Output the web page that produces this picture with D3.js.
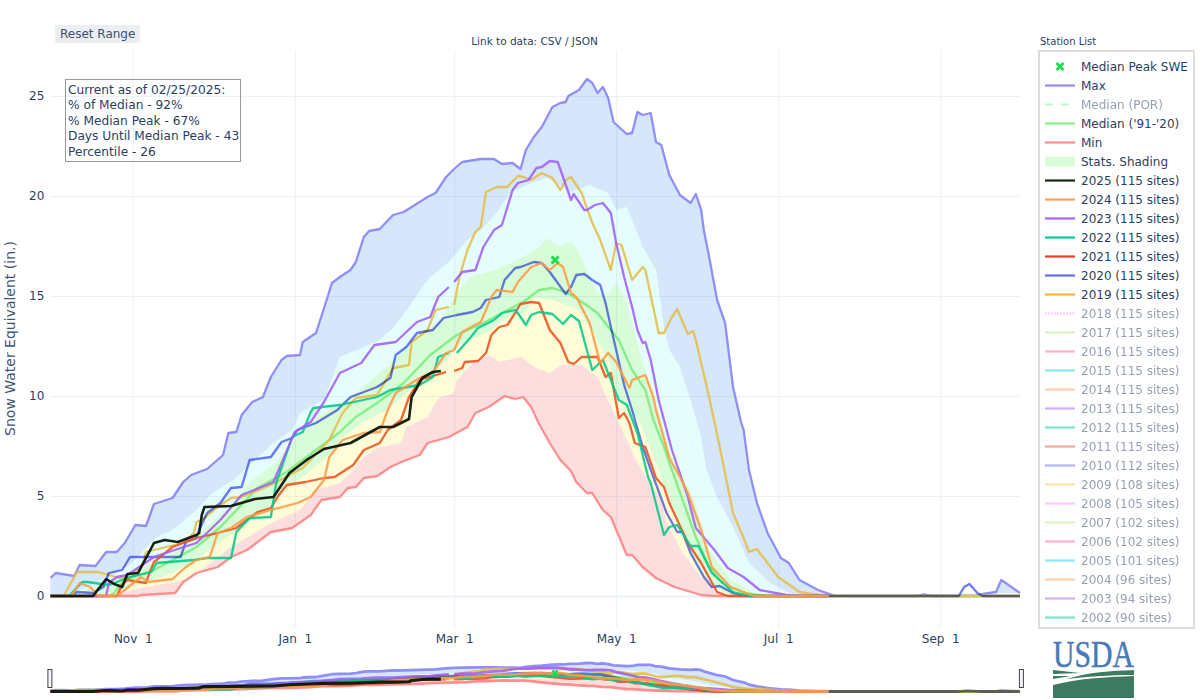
<!DOCTYPE html>
<html>
<head>
<meta charset="utf-8">
<script src="https://cdn.jsdelivr.net/npm/d3@7"></script>
<style>
  html, body { margin: 0; padding: 0; background: #fff; }
  text { font-family: "DejaVu Sans", sans-serif; fill: #2a3f5f; }
</style>
</head>
<body>
<svg id="chart" width="1200" height="700"></svg>
<script>
// all series are [day of water year (Oct 1 = 0), SWE inches]; null marks the missing Feb 29
var maxLine = [[0,.9],[2,1.15],[9,1],[11,1.55],[17,1.5],[21,2.2],[25,2.2],[28,2.65],[32,3.55],[36,3.5],[39,4.6],[46,4.9],[50,5.7],[53,6.05],[59,6.35],[65,7.05],[67,8.15],[70,8.2],[72,9.05],[76,9.7],[80,9.95],[83,10.95],[87,11.8],[89,12],[94,12.05],[95,12.7],[100,13.15],[104,14.8],[106,15.65],[109,15.95],[113,16.3],[115,16.7],[118,17.95],[120,18.25],[124,18.35],[129,19.05],[133,19.2],[142,19.95],[145,20.15],[149,20.95],[152,21.35],[155,21.7],[162,21.85],[167,21.85],[170,21.6],[174,21.65],[177,21.35],[179,22.3],[182,22.95],[185,23.45],[189,24.45],[192,24.65],[194,24.7],[195,25],[199,25.3],[202,25.85],[204,25.65],[206,25.15],[208,25.45],[210,24.9],[212,23.7],[214,23.45],[217,23.1],[219,23.15],[221,24.2],[223,24.05],[226,24.15],[228,22.7],[230,22.55],[233,21.05],[237,20.05],[241,19.65],[243,20.1],[245,19.3],[246,18.3],[248,16.95],[251,14.8],[254,13.65],[257,10.45],[260,8.7],[261,8.3],[263,6.3],[266,4.65],[270,3.15],[275,1.9],[278,1.65],[282,.8],[289,.3],[295,.02],[301,0],[326,0],[329,.08],[332,0],[348,0],[351,.1],[356,.2],[358,.8],[365,.15]];
var minLine = [[0,0],[33,0],[34,.05],[47,.15],[50,.7],[55,1.15],[63,1.45],[68,1.95],[74,2.3],[83,3.2],[91,3.4],[98,4.05],[102,4.8],[109,4.95],[112,5.4],[115,5.45],[118,5.9],[123,6],[128,6.45],[133,6.75],[139,7.05],[142,7.65],[150,7.95],[157,8.45],[160,9.15],[165,9.45],[171,10],[175,9.85],[178,9.95],[181,9.45],[184,8.6],[188,7.65],[192,6.8],[196,6.25],[198,5.7],[202,5.15],[204,5.15],[208,4.3],[211,3.95],[217,2.05],[219,2.05],[223,1.45],[228,.9],[235,.45],[245,.05],[250,0],[365,0]];
var medianLine = [[0,0],[22,0],[24,.15],[27,.65],[30,.9],[39,1.3],[46,1.8],[55,2.45],[64,3.45],[78,5.4],[89,6.2],[99,7.2],[109,8.2],[115,8.95],[123,9.65],[133,10.65],[143,12.05],[153,13.05],[163,13.65],[170,14.15],[178,14.7],[184,15.3],[189,15.4],[194,15.2],[199,14.8],[206,14.15],[211,13.3],[214,12.8],[219,11.3],[224,10.3],[227,8.8],[231,7.45],[234,6.3],[238,4.8],[243,2.95],[248,1.45],[253,.65],[261,.15],[270,0],[365,0]];
var p10 = [[23,0],[34,.4],[45,.65],[53,.9],[68,2.45],[83,3.65],[94,4.3],[100,5.3],[109,5.65],[114,6.3],[118,6.95],[123,7.4],[132,7.65],[134,8.45],[142,8.95],[146,9.9],[152,10.15],[153,10.8],[159,11.65],[165,12.05],[169,11.7],[177,11.95],[183,11.4],[188,11.15],[192,11.55],[200,11.55],[206,10.95],[209,10.05],[213,8.95],[217,7.8],[221,6.65],[225,5.8],[230,4.8],[232,3.65],[238,2.15],[245,.95],[251,.2],[256,0]];
var p30 = [[18,0],[33,.55],[46,1.15],[55,1.8],[66,2.9],[78,3.95],[85,4.8],[95,5.95],[106,7.15],[109,7.8],[117,8.65],[127,9.3],[136,10.4],[146,11.3],[154,12.55],[164,13.15],[172,13.9],[179,14.2],[182,14.9],[189,14.8],[194,14.55],[199,14.3],[206,12.8],[210,11.8],[214,9.95],[222,8.65],[228,6.65],[234,4.45],[240,2.45],[246,.95],[253,.2],[258,0]];
var p70 = [[7,0],[30,1.15],[45,2.05],[56,3.05],[68,4.55],[76,5.8],[84,6.55],[92,7.8],[101,8.95],[115,10.15],[124,11.15],[128,11.65],[136,12.65],[147,13.8],[152,14.95],[158,15.95],[167,16.3],[176,16.8],[184,17.45],[187,17.9],[191,17.45],[196,17.7],[199,17.2],[202,16.3],[206,15.15],[210,14.95],[213,15.75],[217,14.65],[219,13.65],[223,11.65],[229,9.15],[234,6.95],[242,4.95],[248,2.3],[256,.8],[265,.15],[271,0]];
var p90 = [[0,0],[9,.15],[29,1.45],[40,2.95],[46,3.3],[55,4.3],[61,5.15],[69,5.8],[73,6.3],[84,7.65],[91,8.3],[94,9.15],[103,9.8],[109,11.95],[118,12.45],[124,12.8],[129,13.4],[135,14.45],[140,15.45],[143,15.95],[150,16.7],[157,17.8],[162,18.3],[168,19.15],[173,20.15],[181,20.65],[187,20.9],[196,20.2],[203,20.55],[210,20.15],[213,19.3],[217,19.45],[221,18.15],[223,17.45],[228,16.3],[231,13.45],[233,12.3],[237,11.45],[241,9.8],[245,7.95],[247,6.3],[251,4.95],[257,3.45],[263,1.65],[271,.65],[278,.15],[284,0]];
var y2025 = [[0,0],[16,0],[21,.85],[24,.6],[27,.45],[29,1.1],[33,1.15],[39,2.65],[43,2.8],[48,2.7],[55,3.05],[56,3.15],[57,4.05],[58,4.45],[68,4.5],[77,4.85],[84,4.95],[90,6.15],[97,6.85],[103,7.35],[113,7.65],[124,8.45],[129,8.45],[135,8.85],[136,9.95],[140,10.9],[144,11.2],[147,11.25]];
var y2024 = [[0,0],[8,0],[11,.65],[15,.45],[18,0],[25,0],[28,.3],[34,.95],[37,.7],[46,.85],[51,1.45],[55,1.8],[60,1.95],[63,3.15],[68,3.4],[74,3.95],[83,4.3],[93,4.65],[98,4.95],[103,5.8],[105,6.95],[110,7.8],[118,8.15],[124,8.2],[127,9.3],[130,10.15],[139,10.9],[144,11.2],[149,12.15],[152,12.3],[155,13.2],[162,13.7],[164,14.3],[166,14.95],[168,15.3],[174,15.2],[176,15.7],[181,16.45],[185,16.65],[188,16.3],[191,16.65],[193,16.45],[196,15.15],[198,14.95],[203,13.65],[204,13.15],[207,11.65],[210,12.15],[213,11.7],[218,10.4],[219,10.8],[224,11.05],[227,9.95],[228,9.3],[233,6.9],[237,5.95],[240,5.15],[245,3.3],[249,1.45],[256,.45],[265,0],[293,0]];
var y2023 = [[0,0],[21,0],[22,.65],[25,.95],[29,1.05],[39,1.95],[49,2.4],[55,2.65],[64,3.8],[72,5.05],[84,5.7],[92,8.2],[98,8.7],[103,9.7],[109,11.15],[117,11.65],[122,12.55],[130,12.7],[138,13.7],[143,13.95],[146,14.95],[150,15.45],[151,null],[152,15.7],[155,16.2],[160,16.3],[163,17.45],[167,18.3],[170,18.55],[174,20.3],[176,20.65],[180,20.8],[183,21.4],[185,21.45],[188,21.75],[191,21.7],[193,20.95],[196,19.8],[197,20.1],[201,19.3],[202,19.3],[205,19.55],[208,19.65],[211,19.15],[213,17.65],[216,15.95],[219,14.45],[221,13.3],[223,12.65],[224,12.7],[226,11.8],[229,9.8],[234,7.3],[240,4.95],[243,3.4],[250,2.3],[255,1.4],[261,.95],[267,.3],[277,.05],[282,0],[293,0]];
var y2022 = [[0,0],[7,0],[12,.7],[14,.7],[22,.55],[30,.95],[38,1.2],[40,1.65],[54,1.8],[59,1.9],[68,1.9],[70,3.2],[75,3.9],[83,3.95],[85,5.65],[91,7.95],[95,8.2],[98,9.2],[99,9.4],[109,9.55],[123,9.95],[128,10.3],[139,10.55],[144,10.95],[146,11.95],[148,12.05],[150,12.15],[151,null],[153,12.15],[158,12.9],[161,13.4],[167,13.8],[170,14.15],[175,14.3],[177,13.95],[179,13.55],[181,14.05],[184,14.2],[189,14.1],[193,13.6],[196,14.05],[199,13.75],[204,11.3],[208,11.8],[211,10.8],[214,9.8],[217,9.55],[221,8.15],[225,5.95],[226,5.65],[231,3.05],[233,3.45],[236,3.55],[241,2.5],[244,2.5],[249,1.15],[257,.2],[263,0],[293,0]];
var y2021 = [[0,0],[25,0],[27,.55],[29,.8],[36,.65],[37,1.05],[39,1.7],[46,2.45],[55,2.9],[63,3.15],[70,3.4],[74,3.8],[78,4.2],[83,4.4],[86,5.05],[89,5.55],[96,5.7],[103,5.9],[107,5.95],[114,6.55],[118,7.3],[124,7.65],[127,8.3],[132,8.8],[135,9.95],[139,10.8],[144,11],[149,11.2],[151,null],[152,11.25],[155,11.4],[156,11.7],[161,11.75],[164,12.15],[166,13.05],[169,13.45],[172,13.55],[174,13.95],[177,14.6],[181,14.7],[184,14.65],[188,13.3],[192,12.65],[195,11.7],[197,11.6],[200,11.95],[206,11.95],[209,10.95],[211,11.15],[214,8.9],[216,9.15],[218,8.65],[220,7.65],[224,7.45],[228,5.9],[231,5.45],[233,4.65],[236,3.8],[240,2.65],[245,1.65],[251,.2],[255,0],[293,0]];
var y2020 = [[0,0],[8,0],[10,.2],[16,.15],[20,.45],[22,1.15],[27,1.3],[30,1.95],[37,1.95],[49,1.95],[51,2.7],[55,2.9],[56,3.3],[59,4.15],[64,4.65],[68,5.4],[72,5.45],[75,6.8],[83,6.95],[87,7.7],[91,7.9],[93,8.3],[100,8.65],[108,9.3],[113,9.95],[123,10.45],[128,10.9],[130,12.05],[134,12.45],[138,13.15],[144,13.3],[148,13.9],[153,14.05],[159,14.2],[162,14.4],[164,14.8],[169,14.95],[171,15.8],[175,16.4],[177,16.45],[182,16.7],[185,16.65],[188,16.2],[191,15.65],[194,15.1],[196,15.45],[198,16.05],[201,16.1],[204,15.8],[207,15.55],[209,14.65],[211,13.45],[213,12.3],[216,10.55],[219,9.3],[223,7.45],[227,5.95],[232,4.15],[236,3.2],[238,3.2],[241,2.15],[246,.95],[249,.45],[252,.5],[257,.15],[262,0],[342,0],[344,.45],[346,.6],[349,.15],[351,0],[365,0]];
var y2019 = [[0,0],[5,0],[10,1.2],[18,1.2],[26,.9],[30,.9],[35,1.65],[36,2.2],[42,2.4],[50,2.65],[54,3.15],[55,3.7],[57,3.8],[63,4.45],[68,4.9],[72,4.95],[83,5.55],[95,6.4],[104,7.65],[105,7.8],[110,9.15],[115,9.9],[123,10.05],[129,11.4],[135,11.55],[136,12.7],[142,13.3],[145,14.3],[150,14.45],[151,null],[152,14.55],[154,15.95],[157,17.3],[160,18.2],[162,18.45],[164,20.2],[168,20.45],[172,20.45],[176,21],[178,20.95],[181,20.8],[185,21.15],[189,20.9],[192,20.3],[194,20.8],[196,20.95],[200,20.15],[204,18.65],[207,17.8],[211,16.3],[213,17.65],[215,17.55],[219,15.8],[223,16.45],[224,16.3],[229,13.15],[231,13.15],[234,13.95],[236,14.35],[238,13.7],[240,13.1],[242,13.25],[243,12.8],[248,9.95],[252,7.45],[257,4.15],[261,2.9],[263,2.2],[266,2.35],[274,.95],[282,.2],[292,0],[365,0]];

var medianPeak = [190, 16.8];

var xTickDays = [31, 92, 152, 213, 274, 335];
var xTickLabels = ['Nov  1', 'Jan  1', 'Mar  1', 'May  1', 'Jul  1', 'Sep  1'];
var yTicks = [0, 5, 10, 15, 20, 25];

var yearSeries = [y2019, y2020, y2021, y2022, y2023, y2024, y2025];
var yearColors = ['#e4be4a', '#5a66fa', '#ef5020', '#00c98a', '#a05ff5', '#ff9a45', '#0c1608'];

var legendNames = ['Median Peak SWE', 'Max', 'Median (POR)', "Median ('91-'20)", 'Min', 'Stats. Shading',
  '2025 (115 sites)', '2024 (115 sites)', '2023 (115 sites)', '2022 (115 sites)', '2021 (115 sites)', '2020 (115 sites)', '2019 (115 sites)',
  '2018 (115 sites)', '2017 (115 sites)', '2016 (115 sites)', '2015 (115 sites)', '2014 (115 sites)', '2013 (115 sites)', '2012 (115 sites)',
  '2011 (115 sites)', '2010 (112 sites)', '2009 (108 sites)', '2008 (105 sites)', '2007 (102 sites)', '2006 (102 sites)', '2005 (101 sites)',
  '2004 (96 sites)', '2003 (94 sites)', '2002 (90 sites)'];
var legendColors = ['#14e04a', '#8f8ff7', '#8cef8c', '#8cef8c', '#ff8f8f', '#d8fbd8',
  '#1a2a10', '#ffa15a', '#ab63fa', '#00cc96', '#ef3b2b', '#636efa', '#ffb040',
  '#ff97ff', '#b6e880', '#ff6692', '#19d3f3', '#ffa15a', '#ab63fa', '#00cc96',
  '#ef553b', '#636efa', '#fecb52', '#ff97ff', '#b6e880', '#ff6692', '#19d3f3',
  '#ffa15a', '#ab63fa', '#00cc96'];
var legendHidden = ['Median (POR)'];

var svg = d3.select('#chart');

var plotLeft = 50.4, plotRight = 1019.9, plotTop = 50, plotBottom = 628;

var x = d3.scaleLinear().domain([0, 365]).range([plotLeft, plotRight]);
var y = d3.scaleLinear().domain([-1.6, 27.3]).range([plotBottom, plotTop]);
var yMini = d3.scaleLinear().domain([0, 25.85]).range([691.5, 663]);

function lineFor(yScale) {
    return d3.line()
        .defined(function (d) { return d[1] !== null; })
        .x(function (d) { return x(d[0]); })
        .y(function (d) { return yScale(d[1]); });
}

// stats shading, each band runs along its upper curve and back along the lower one
var bands = [
    { upper: maxLine, lower: p90, fill: 'rgba(5,105,230,0.16)' },
    { upper: p90, lower: p70, fill: 'rgba(5,235,235,0.1)' },
    { upper: p70, lower: p30, fill: 'rgba(11,230,11,0.16)' },
    { upper: p30, lower: p10, fill: 'rgba(249,243,11,0.16)' },
    { upper: p10, lower: minLine, fill: 'rgba(240,1,1,0.13)' }
];

function drawMarks(g, yScale, widthScale) {
    var line = lineFor(yScale);

    bands.forEach(function (b) {
        var ring = b.upper.concat(b.lower.slice().reverse());
        g.append('path').attr('d', line(ring) + 'Z').attr('fill', b.fill);
    });

    [[maxLine, '#8f8ff7'], [minLine, '#ff8f8f'], [medianLine, '#86ee86']].forEach(function (s) {
        g.append('path').attr('d', line(s[0]))
            .attr('fill', 'none').attr('stroke', s[1])
            .attr('stroke-width', 2.3 * widthScale).attr('stroke-linejoin', 'round');
    });

    yearSeries.forEach(function (s, i) {
        var path = g.append('path').attr('d', line(s))
            .attr('fill', 'none').attr('stroke', yearColors[i])
            .attr('stroke-opacity', i === 6 ? 0.95 : 0.88)
            .attr('stroke-width', (i === 6 ? 2.6 : 2.3) * widthScale).attr('stroke-linejoin', 'round');
        // 2020 darkens what it crosses, that gives the grey run along zero
        if (i === 1) path.style('mix-blend-mode', 'multiply');
    });

    g.append('path')
        .attr('d', d3.symbol(d3.symbolX, widthScale === 1 ? 34 : 20)())
        .attr('transform', 'translate(' + x(medianPeak[0]) + ',' + yScale(medianPeak[1]) + ')')
        .attr('fill', 'none').attr('stroke', '#14e04a').attr('stroke-width', 2.6);
}

// grid
var yGrid = svg.append('g').attr('transform', 'translate(' + plotLeft + ',0)')
    .call(d3.axisLeft(y).tickValues(yTicks).tickSize(-(plotRight - plotLeft)).tickPadding(6).tickFormat(d3.format('d')));
yGrid.select('.domain').remove();
yGrid.selectAll('line').attr('stroke', '#ebf0f8');
yGrid.selectAll('line').filter(function (d) { return d === 0; }).attr('stroke-width', 2);
yGrid.selectAll('text').attr('font-size', 12).style('font-family', '"DejaVu Sans"').style('fill', '#2a3f5f');

var xGrid = svg.append('g').attr('transform', 'translate(0,' + plotBottom + ')')
    .call(d3.axisBottom(x).tickValues(xTickDays).tickSize(-(plotBottom - plotTop)).tickPadding(6)
        .tickFormat(function (d, i) { return xTickLabels[i]; }));
xGrid.select('.domain').remove();
xGrid.selectAll('line').attr('stroke', '#ebf0f8');
xGrid.selectAll('text').attr('font-size', 12).style('font-family', '"DejaVu Sans"').style('white-space', 'pre').style('fill', '#2a3f5f');

drawMarks(svg.append('g').style('isolation', 'isolate'), y, 1);

// range slider
drawMarks(svg.append('g').style('isolation', 'isolate'), yMini, 1.2);
[plotLeft - 2.5, plotRight - 0.5].forEach(function (hx) {
    svg.append('rect').attr('x', hx).attr('y', 669.5).attr('width', 4).attr('height', 18)
        .attr('fill', '#f2f5fa').attr('stroke', '#444');
});

// y title
svg.append('text')
    .attr('transform', 'translate(14.5,338.5) rotate(-90)')
    .attr('text-anchor', 'middle').attr('font-size', 14).style('fill', '#3f5575')
    .text('Snow Water Equivalent (in.)');

// header bits
svg.append('rect').attr('x', 55).attr('y', 25).attr('width', 85).attr('height', 18).attr('rx', 2).attr('fill', '#eceef1');
svg.append('text').attr('x', 60).attr('y', 37.5).attr('font-size', 12).style('fill', '#3f5070').text('Reset Range');
svg.append('text').attr('x', 534.5).attr('y', 45).attr('text-anchor', 'middle').attr('font-size', 10.5).text('Link to data: CSV / JSON');
svg.append('text').attr('x', 1040).attr('y', 45).attr('font-size', 10).text('Station List');

// current-as-of box
svg.append('rect').attr('x', 65.5).attr('y', 79.5).attr('width', 175).attr('height', 82)
    .attr('fill', 'none').attr('stroke', '#999');
var noteLines = ['Current as of 02/25/2025:', '% of Median - 92%', '% Median Peak - 67%', 'Days Until Median Peak - 43', 'Percentile - 26'];
noteLines.forEach(function (t, i) {
    svg.append('text').attr('x', 68).attr('y', 93.5 + i * 15.6).attr('font-size', 12.2).text(t);
});

// legend
svg.append('rect').attr('x', 1039).attr('y', 51).attr('width', 155).attr('height', 577)
    .attr('fill', '#fff').attr('stroke', '#dedede').attr('stroke-width', 2);

legendNames.forEach(function (name, i) {
    var rowY = 66.5 + i * 19;
    var off = i > 12 || legendHidden.indexOf(name) >= 0;
    var row = svg.append('g').attr('opacity', off ? 0.5 : 1);
    if (name === 'Median Peak SWE') {
        row.append('path').attr('d', d3.symbol(d3.symbolX, 34)())
            .attr('transform', 'translate(1060,' + rowY + ')')
            .attr('fill', 'none').attr('stroke', legendColors[i]).attr('stroke-width', 2.6);
    } else if (name === 'Stats. Shading') {
        row.append('rect').attr('x', 1045).attr('y', rowY - 5).attr('width', 30).attr('height', 10).attr('fill', legendColors[i]);
    } else {
        row.append('line').attr('x1', 1045).attr('x2', 1075).attr('y1', rowY).attr('y2', rowY)
            .attr('stroke', legendColors[i]).attr('stroke-width', 2.2)
            .attr('stroke-dasharray', name === 'Median (POR)' ? '8,8' : (name.indexOf('2018') === 0 ? '2,1' : null));
    }
    row.append('text').attr('x', 1081).attr('y', rowY + 4.3).attr('font-size', 12).text(name);
});

// USDA mark
var logo = svg.append('g');
logo.append('text').attr('x', 1053).attr('y', 667).attr('font-size', 37)
    .attr('textLength', 81).attr('lengthAdjust', 'spacingAndGlyphs')
    .style('font-family', '"Liberation Serif", serif').style('fill', '#4a79b8')
    .style('stroke', '#4a79b8').style('stroke-width', 0.5).text('USDA');
logo.append('path').attr('d', 'M1053,670 L1080,673 L1053,674Z').attr('fill', '#3c7a62');
logo.append('path').attr('d', 'M1053,676 L1071,676 L1053,679Z').attr('fill', '#3c7a62');
logo.append('path').attr('d', 'M1066,679 C1090,672 1110,671 1134,670 L1134,675 C1110,675 1085,677 1066,679Z').attr('fill', '#3c7a62');
logo.append('path').attr('d', 'M1053,685 C1080,678 1110,677 1134,676 L1134,698 L1053,698Z').attr('fill', '#3c7a62');
</script>
</body>
</html>
